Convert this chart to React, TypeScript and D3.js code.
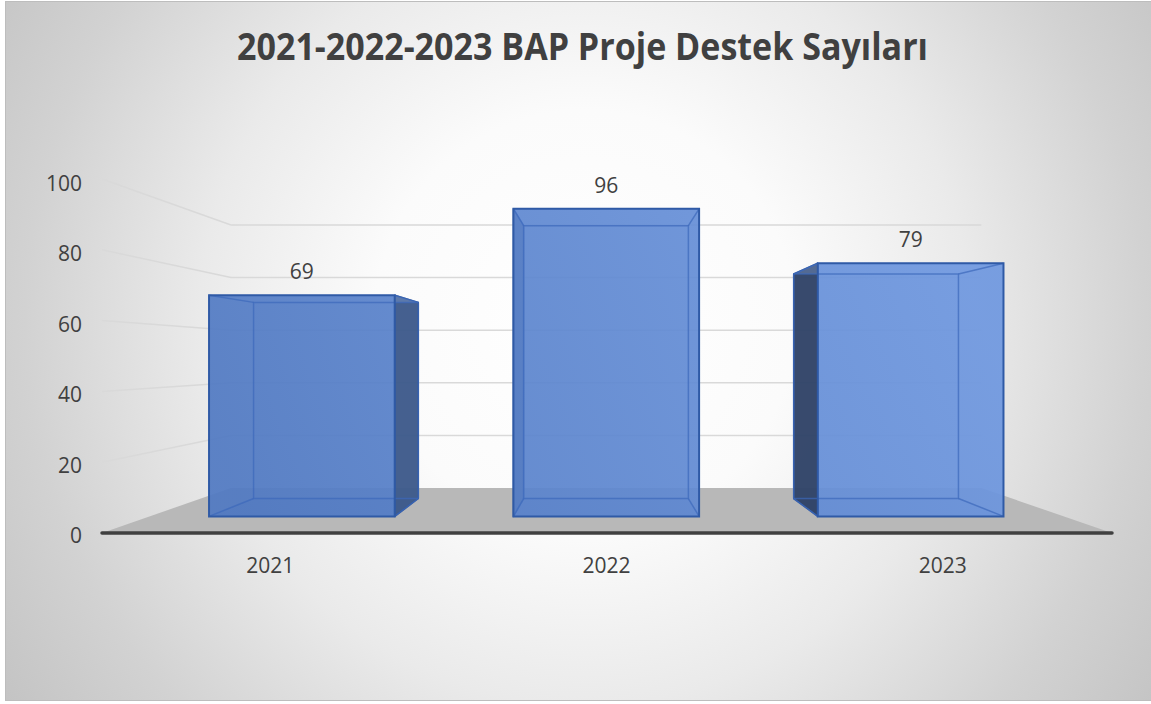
import React from "react";
import * as d3 from "d3";

const categories = ["2021", "2022", "2023"];
const values = [69, 96, 79];
const yTicks = [0, 20, 40, 60, 80, 100];
const title = "2021-2022-2023 BAP Proje Destek Sayıları";

const W = 1151;
const H = 704;
const VP = { x: 604, y: 358 };
const K = { front: 1, barFront: 0.905, barBack: 0.803, back: 0.743 };

const y = d3.scaleLinear().domain([0, 100]).range([533, 179]);
const yLabel = d3.scaleLinear().domain([0, 100]).range([535, 183]);
const x = d3
  .scaleBand<string>()
  .domain(categories)
  .range([102, 1111])
  .paddingInner(0.39)
  .paddingOuter(0.195);

const P = (X: number, v: number, k: number): [number, number] => [
  VP.x + (X - VP.x) * k,
  VP.y + (y(v) - VP.y) * k,
];
const poly = (pts: [number, number][]) => pts.map((p) => p.join(",")).join(" ");
const line = d3.line();

export default function App() {
  const [x0] = x.range();
  const floor = [P(x0, 0, K.front), P(1112, 0, K.front), P(1112, 0, K.back), P(x0, 0, K.back)];
  const bw = x.bandwidth();
  const font = "'Open Sans', 'Noto Sans', sans-serif";

  return (
    <svg width={W} height={H} style={{ position: "absolute", left: 0, top: 0 }}>
      <defs>
        <radialGradient id="bg" gradientUnits="userSpaceOnUse" cx={585} cy={320} r={700}>
          <stop offset="0" stopColor="#ffffff" />
          <stop offset="0.3" stopColor="#fbfbfb" />
          <stop offset="0.55" stopColor="#eaeaea" />
          <stop offset="0.8" stopColor="#d2d2d2" />
          <stop offset="1" stopColor="#c3c3c3" />
        </radialGradient>
        <linearGradient id="face" gradientUnits="userSpaceOnUse" x1={250} y1={520} x2={950} y2={240}>
          <stop offset="0" stopColor="#5079c2" />
          <stop offset="1" stopColor="#6f98e0" />
        </linearGradient>
      </defs>
      <rect x={0} y={0} width={W} height={H} fill="#ffffff" />
      <rect x={5.5} y={1.5} width={1160} height={699} fill="url(#bg)" stroke="#bdbdbd" strokeWidth={1} />

      <text
        x={582.5}
        y={60}
        textAnchor="middle"
        fontFamily={font}
        fontWeight={700}
        fontSize={37}
        fill="#404040"
        textLength={691}
        lengthAdjust="spacingAndGlyphs"
      >
        {title}
      </text>

      {/* floor */}
      <polygon points={poly(floor)} fill="#b8b8b8" />

      {/* gridlines: side wall and back wall */}
      {yTicks
        .filter((t) => t > 0)
        .map((t) => (
          <g key={t}>
            <path d={line([P(x0, t, K.front), P(x0, t, K.back)]) || ""} stroke="#d9d9d9" strokeWidth={1.5} fill="none" />
            <path d={line([P(x0, t, K.back), P(1112, t, K.back)]) || ""} stroke="#d9d9d9" strokeWidth={1.5} fill="none" />
          </g>
        ))}

      {/* bars */}
      {categories.map((c, i) => {
        const v = values[i];
        const L = x(c)!;
        const R = L + bw;
        const fTL = P(L, v, K.barFront), fTR = P(R, v, K.barFront), fBR = P(R, 0, K.barFront), fBL = P(L, 0, K.barFront);
        const bTL = P(L, v, K.barBack), bTR = P(R, v, K.barBack), bBR = P(R, 0, K.barBack), bBL = P(L, 0, K.barBack);
        const center = L + bw / 2;
        const rightVisible = center < VP.x;
        const side = rightVisible ? [fTR, bTR, bBR, fBR] : [fTL, bTL, bBL, fBL];
        const otherSide = rightVisible ? [fTL, bTL, bBL, fBL] : [fTR, bTR, bBR, fBR];
        const lab = P(center, v, K.barFront);
        return (
          <g key={c}>
            <polygon points={poly([bTL, bTR, bBR, bBL])} fill="#4472c4" fillOpacity={0.25} />
            <polygon points={poly([fBL, fBR, bBR, bBL])} fill="#3a62ad" fillOpacity={0.45} />
            <polygon points={poly(otherSide)} fill="#4472c4" fillOpacity={0.2} />
            <polygon
              points={poly(side)}
              fill={rightVisible ? "#3d5a8a" : "#2f4266"}
              fillOpacity={0.95}
              stroke="#2f5597"
              strokeWidth={1.5}
              strokeLinejoin="round"
            />
            <polygon points={poly([fTL, fTR, bTR, bTL])} fill="#8fb0ec" fillOpacity={0.3} />
            <polygon points={poly([fTL, fTR, fBR, fBL])} fill="url(#face)" fillOpacity={0.9} />
            {/* hidden edges seen through the glass */}
            <g stroke="#3c68bb" strokeWidth={1.5} strokeOpacity={0.7} fill="none">
              <polygon points={poly([bTL, bTR, bBR, bBL])} />
              <path d={line([fTL, bTL]) || ""} />
              <path d={line([fTR, bTR]) || ""} />
              <path d={line([fBR, bBR]) || ""} />
              <path d={line([fBL, bBL]) || ""} />
            </g>
            <polygon points={poly([fTL, fTR, fBR, fBL])} fill="none" stroke="#2f5aa6" strokeWidth={2} />
            <text
              x={lab[0]}
              y={lab[1] - 24}
              textAnchor="middle"
              dominantBaseline="central"
              fontFamily={font}
              fontSize={21}
              fill="#404040"
            >
              {v}
            </text>
          </g>
        );
      })}

      {/* axis line */}
      <path
        d={line([P(x0, 0, K.front), P(1112, 0, K.front)]) || ""}
        stroke="#404040"
        strokeWidth={3.5}
        strokeLinecap="round"
        fill="none"
      />

      {/* y tick labels */}
      {yTicks.map((t) => (
        <text
          key={t}
          x={82}
          y={yLabel(t)}
          textAnchor="end"
          dominantBaseline="central"
          fontFamily={font}
          fontSize={21}
          fill="#404040"
        >
          {t}
        </text>
      ))}

      {/* category labels */}
      {categories.map((c) => (
        <text
          key={c}
          x={x(c)! + bw / 2}
          y={565}
          textAnchor="middle"
          dominantBaseline="central"
          fontFamily={font}
          fontSize={21}
          fill="#404040"
        >
          {c}
        </text>
      ))}
    </svg>
  );
}
